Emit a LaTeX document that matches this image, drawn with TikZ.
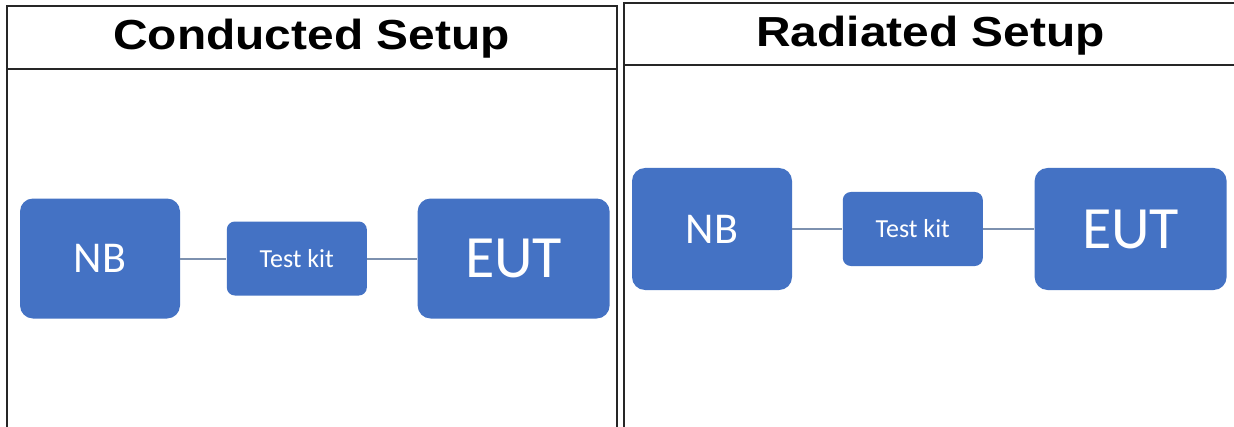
\documentclass[tikz,border=0pt]{standalone}
\usepackage{fontspec}
\setmainfont{Liberation Sans}
\newfontfamily\ttlfont{Liberation Sans}[FakeStretch=1.14]
\newfontfamily\boxfont{Carlito}
\usetikzlibrary{positioning}
\definecolor{boxblue}{RGB}{68,114,196}
\definecolor{wirecol}{RGB}{125,145,175}

\begin{document}
\begin{tikzpicture}[x=0.5pt, y=-0.5pt,
  panel/.style={draw=black!85, line width=1pt},
  ttl/.style={anchor=base, inner sep=0pt,
              font=\ttlfont\fontsize{21}{25}\selectfont\bfseries},
  blk/.style={fill=boxblue, text=white, rounded corners=6.5pt,
              minimum width=80pt, minimum height=60pt, inner sep=0pt,
              font=\boxfont\fontsize{22}{24}\selectfont},
  eut/.style={blk, minimum width=96pt,
              font=\boxfont\fontsize{30}{32}\selectfont},
  kit/.style={blk, minimum width=70pt, minimum height=37pt,
              rounded corners=4pt, font=\boxfont\fontsize{13}{15}\selectfont},
  wire/.style={draw=wirecol, line width=1pt}]

  \useasboundingbox[fill=white] (0,0) rectangle (1234,427);

  % two panels, open at the bottom
  \draw[panel] (7,427) -- (7,6) -- (617,6) -- (617,427);
  \draw[panel] (7,69) -- (617,69);
  \draw[panel] (624,427) -- (624,3) -- (1234,3);
  \draw[panel] (624,65) -- (1234,65);

  \node[ttl] (ttlA) at (311.5,50) {Conducted Setup};
  \node[ttl] (ttlB) at (930.5,46.5) {Radiated Setup};

  % conducted
  \node[blk] (nbA) at (100,258.5) {NB};
  \node[kit, right=23pt of nbA] (kitA) {Test kit};
  \node[eut, right=25pt of kitA] (eutA) {EUT};

  % radiated
  \node[blk, minimum height=61pt] (nbB) at (712,229) {NB};
  \node[kit, right=25pt of nbB] (kitB) {Test kit};
  \node[eut, minimum height=61pt, right=25.5pt of kitB] (eutB) {EUT};

  \draw[wire] (nbA) -- (kitA);
  \draw[wire] (kitA) -- (eutA);
  \draw[wire] (nbB) -- (kitB);
  \draw[wire] (kitB) -- (eutB);
\end{tikzpicture}
\end{document}
